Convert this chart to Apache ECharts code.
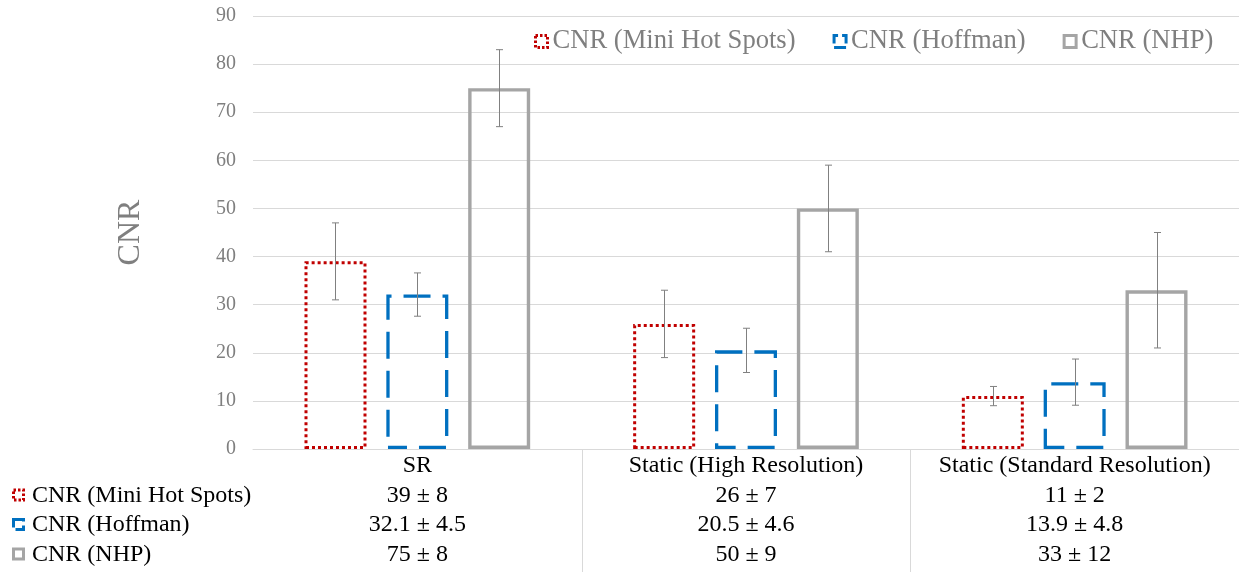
<!DOCTYPE html>
<html>
<head>
<meta charset="utf-8">
<script src="https://cdn.jsdelivr.net/npm/echarts@6/dist/echarts.min.js"></script>
<style>
  html, body { margin: 0; padding: 0; background: #ffffff; }
  #chart { width: 1239px; height: 572px; }
</style>
</head>
<body>
<div id="chart"></div>
<script>
// Categories and measured CNR values (mean ± standard deviation)
const categories = ['SR', 'Static (High Resolution)', 'Static (Standard Resolution)'];
const seriesNames = ['CNR (Mini Hot Spots)', 'CNR (Hoffman)', 'CNR (NHP)'];
const miniHotSpotsMean = [39, 26, 11];
const miniHotSpotsSd = [8, 7, 2];
const hoffmanMean = [32.1, 20.5, 13.9];
const hoffmanSd = [4.5, 4.6, 4.8];
const nhpMean = [75, 50, 33];
const nhpSd = [8, 9, 12];
const yMin = 0, yMax = 90, yStep = 10;

const means = [miniHotSpotsMean, hoffmanMean, nhpMean];
const sds = [miniHotSpotsSd, hoffmanSd, nhpSd];

const FONT = "'Liberation Serif', 'Times New Roman', serif";
const TABLE_FONT_SIZE = 24;
const TABLE_MARGIN = 5;
const GRID_LEFT = 253, GRID_BOTTOM = 123, GRID_TOP = 16;
const BAR_WIDTH = 62, BAR_GAP = 0.32;
const BAR_STEP = BAR_WIDTH * (1 + BAR_GAP);
const ROW_PITCH = 29.5;

// Outline styles for each series: dotted red, long-dashed blue, solid grey
const outline = [
  { color: '#C00000', type: [3, 3], width: 3 },
  { color: '#0070C0', type: [27, 12], width: 3.3 },
  { color: '#A5A5A5', type: 'solid', width: 3.4 }
];
const keyDash = [[2.5, 2], [12, 4], null];

const chart = echarts.init(document.getElementById('chart'), null, { renderer: 'canvas' });

const barSeries = seriesNames.map((name, s) => ({
  name: name,
  type: 'bar',
  xAxisIndex: 0,
  yAxisIndex: 0,
  data: means[s],
  barWidth: BAR_WIDTH,
  barGap: (BAR_GAP * 100) + '%',
  itemStyle: {
    color: 'rgba(0,0,0,0)',
    borderColor: outline[s].color,
    borderWidth: outline[s].width,
    borderType: outline[s].type,
    borderDashOffset: s === 1 ? 8 : 0,
    borderCap: 'butt'
  },
  emphasis: { disabled: true },
  z: 2
}));

// Error bar data: [category index, low, high, series index]
const errorData = [];
seriesNames.forEach((n, s) => {
  categories.forEach((c, i) => {
    errorData.push([i, means[s][i] - sds[s][i], means[s][i] + sds[s][i], s]);
  });
});

const errorSeries = {
  type: 'custom',
  name: 'error',
  xAxisIndex: 0,
  yAxisIndex: 0,
  data: errorData,
  encode: { x: 0, y: [1, 2] },
  z: 5,
  silent: true,
  renderItem: function (params, api) {
    const ci = api.value(0);
    const s = api.value(3);
    const lo = api.coord([ci, api.value(1)]);
    const hi = api.coord([ci, api.value(2)]);
    const x = Math.round(lo[0] + (s - 1) * BAR_STEP) + 0.5;
    const cap = 3.5;
    const st = { stroke: '#808080', lineWidth: 1 };
    return {
      type: 'group',
      children: [
        { type: 'line', shape: { x1: x, y1: lo[1], x2: x, y2: hi[1] }, style: st },
        { type: 'line', shape: { x1: x - cap, y1: lo[1], x2: x + cap, y2: lo[1] }, style: st },
        { type: 'line', shape: { x1: x - cap, y1: hi[1], x2: x + cap, y2: hi[1] }, style: st }
      ]
    };
  }
};

// Data table rows as extra category axes beneath the plot
const tableAxes = seriesNames.map((n, s) => ({
  type: 'category',
  gridIndex: 0,
  data: categories,
  position: 'bottom',
  offset: ROW_PITCH * (s + 1),
  axisLine: { show: false },
  axisTick: { show: false },
  axisLabel: {
    interval: 0,
    margin: TABLE_MARGIN,
    color: '#000000',
    fontSize: TABLE_FONT_SIZE,
    fontFamily: FONT,
    formatter: function (v, idx) { return means[s][idx] + ' ± ' + sds[s][idx]; }
  }
}));

chart.setOption({
  animation: false,
  backgroundColor: '#ffffff',
  grid: { left: GRID_LEFT, right: 0, top: GRID_TOP, bottom: GRID_BOTTOM, containLabel: false },
  legend: {
    top: 23,
    left: 529,
    itemWidth: 12,
    itemHeight: 12,
    itemGap: 37,
    icon: 'rect',
    textStyle: { fontSize: 26.6, color: '#7f7f7f', fontFamily: FONT, padding: [0, 0, 0, 0] },
    data: seriesNames.map((name, s) => ({
      name: name,
      itemStyle: {
        color: 'rgba(0,0,0,0)',
        borderColor: outline[s].color,
        borderWidth: 3,
        borderType: keyDash[s] || 'solid'
      }
    }))
  },
  xAxis: [
    {
      type: 'category',
      gridIndex: 0,
      data: categories,
      axisLine: { show: true, lineStyle: { color: '#d9d9d9', width: 1 } },
      axisTick: { show: false },
      axisLabel: { interval: 0, margin: TABLE_MARGIN, color: '#000000', fontSize: TABLE_FONT_SIZE, fontFamily: FONT }
    }
  ].concat(tableAxes),
  yAxis: {
    type: 'value',
    min: yMin,
    max: yMax,
    interval: yStep,
    name: 'CNR',
    nameLocation: 'middle',
    nameGap: 106,
    nameRotate: 90,
    nameTextStyle: { fontSize: 32, color: '#7f7f7f', fontFamily: FONT, padding: [0, 0, 0, 0] },
    axisLine: { show: false },
    axisTick: { show: false },
    axisLabel: { margin: 17, fontSize: 20, color: '#7f7f7f', fontFamily: FONT },
    splitLine: { lineStyle: { color: '#d9d9d9', width: 1 } }
  },
  series: barSeries.concat([errorSeries])
});

// Table dividers between categories and row labels with legend keys
function drawTable() {
  const h = chart.getHeight();
  const axisY = h - GRID_BOTTOM;
  const centers = categories.map((c, i) => chart.convertToPixel({ xAxisIndex: 0 }, i));
  const elements = [];
  for (let i = 0; i < centers.length - 1; i++) {
    const x = Math.round((centers[i] + centers[i + 1]) / 2) + 0.5;
    elements.push({
      type: 'line',
      shape: { x1: x, y1: axisY, x2: x, y2: h },
      style: { stroke: '#d9d9d9', lineWidth: 1 },
      silent: true
    });
  }
  seriesNames.forEach((name, s) => {
    const cy = axisY + ROW_PITCH * (s + 1) + TABLE_MARGIN + TABLE_FONT_SIZE / 2;
    elements.push({
      type: 'rect',
      shape: { x: 13.5, y: cy - 5.5, width: 10, height: 10 },
      style: {
        fill: 'rgba(0,0,0,0)',
        stroke: outline[s].color,
        lineWidth: 3,
        lineDash: keyDash[s]
      },
      silent: true
    });
    elements.push({
      type: 'text',
      x: 32,
      y: cy,
      style: {
        text: name,
        fill: '#000000',
        fontSize: TABLE_FONT_SIZE,
        fontFamily: FONT,
        verticalAlign: 'middle',
        align: 'left'
      },
      silent: true
    });
  });
  chart.setOption({ graphic: { elements: elements } });
}
drawTable();
</script>
</body>
</html>
